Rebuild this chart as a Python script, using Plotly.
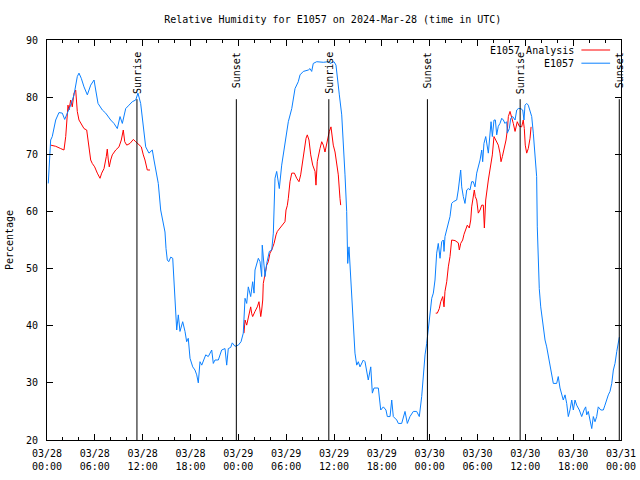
import pandas as pd
import plotly.graph_objects as go

START = pd.Timestamp("2024-03-28 00:00")

# E1057 observed relative humidity: hours since 03/28 00:00 UTC, value (%)
blue_hours = [0.16, 0.25, 0.46, 0.66, 1.09, 1.5, 1.92, 2.22, 2.55, 2.97, 3.39, 3.8, 4.01, 4.3, 4.64,
              5.06, 5.48, 5.9, 6.11, 6.4, 6.94, 7.36, 7.99, 8.4, 8.82, 9.16, 9.45, 9.87, 10.29, 10.7,
              11.13, 11.41, 11.75, 12.04, 12.38, 12.79, 13.21, 13.42, 13.55, 13.96, 14.26, 14.51, 14.8,
              14.93, 15.09, 15.27, 15.52, 15.77, 15.93, 16.06, 16.18, 16.27, 16.47, 16.68, 17.02, 17.31,
              17.52, 17.72, 17.94, 18.28, 18.56, 18.78, 18.98, 19.19, 19.41, 19.61, 19.91, 20.23, 20.66,
              20.86, 21.07, 21.49, 21.91, 22.33, 22.54, 22.74, 23.04, 23.24, 23.58, 24.0, 24.34, 24.62,
              24.84, 25.05, 25.25, 25.55, 25.8, 25.97, 26.09, 26.51, 26.72, 26.93, 27.0, 27.35, 27.56,
              27.89, 28.19, 28.39, 28.48, 28.6, 28.81, 29.14, 29.44, 29.64, 29.85, 30.27, 30.7, 31.11,
              31.52, 31.74, 32.15, 32.78, 32.99, 33.2, 33.4, 33.83, 34.66, 35.29, 35.5, 36.0, 36.25,
              36.41, 36.67, 36.97, 37.17, 37.38, 37.59, 37.67, 37.72, 37.88, 38.1, 38.22, 38.42, 38.63,
              38.85, 39.05, 39.26, 39.68, 39.89, 40.3, 40.61, 40.81, 41.02, 41.56, 41.86, 42.19, 42.52,
              42.69, 43.03, 43.24, 43.44, 43.87, 44.07, 44.49, 44.91, 45.2, 45.53, 45.95, 46.37, 46.7,
              47.0, 47.2, 47.42, 47.63, 47.83, 48.04, 48.26, 48.46, 48.67, 48.88, 49.08, 49.3, 49.51,
              49.71, 49.8, 49.92, 50.14, 50.46, 50.55, 50.76, 50.97, 51.39, 51.59, 51.89, 52.02, 52.22,
              52.43, 52.65, 52.85, 53.06, 53.27, 53.47, 53.69, 53.9, 54.1, 54.32, 54.53, 54.65, 54.81,
              55.03, 55.36, 55.57, 55.7, 55.86, 56.07, 56.24, 56.41, 56.61, 56.82, 57.04, 57.24, 57.45,
              57.66, 57.74, 57.99, 58.17, 58.42, 58.71, 58.92, 59.12, 59.42, 59.67, 59.83, 59.96, 60.17,
              60.37, 60.59, 60.8, 61.0, 61.21, 61.42, 61.5, 61.63, 61.75, 61.93, 62.09, 62.26, 62.47,
              62.68, 62.88, 63.09, 63.31, 63.51, 63.93, 64.13, 64.35, 64.56, 64.76, 64.98, 65.19, 65.39,
              65.6, 65.82, 66.02, 66.23, 66.44, 66.77, 67.07, 67.36, 67.57, 67.7, 67.9, 68.11, 68.33,
              68.53, 68.74, 68.95, 69.15, 69.46, 69.78, 69.99, 70.21, 70.41, 70.62, 70.84, 71.04, 71.25,
              71.47, 71.67, 71.79]
blue_rh = [64.9, 67.2, 72.5, 73.1, 76.0, 77.3, 77.2, 76.1, 77.2, 78.6, 80.4, 83.6, 84.2, 83.3, 81.8,
           80.4, 82.1, 83.0, 81.25, 78.9, 77.75, 77.2, 76.0, 75.4, 74.5, 76.6, 75.4, 78.0, 78.6, 79.2,
           79.5, 80.7, 78.9, 75.4, 71.3, 70.2, 70.75, 69.0, 68.1, 64.9, 60.25, 58.2, 56.4,
           53.5, 51.5, 51.2, 52.0, 51.8, 47.4, 44.5, 41.0, 39.25, 41.9, 39.0, 40.7, 39.0,
           37.2, 37.8, 34.3, 32.8, 32.25, 31.4, 30.0, 33.7, 33.1, 33.7, 34.9, 34.6, 35.75,
           33.4, 34.0, 34.0, 35.75, 36.0, 33.1, 36.0, 36.2, 37.0, 36.4, 36.6, 37.2, 38.7,
           44.8, 43.9, 46.8, 45.1, 47.7, 45.7, 49.75, 51.8, 51.2, 48.6, 54.1, 48.6, 50.9,
           53.0, 53.25, 56.2, 60.0, 65.8, 67.0, 64.0, 68.1, 69.9, 72.2, 75.7, 78.0, 81.5,
           82.7, 83.9, 84.5, 84.75, 85.0, 84.5, 85.9, 86.2, 86.1, 86.2, 85.9, 86.2, 85.6,
           83.9, 80.4, 76.9, 72.2, 66.4, 60.0, 54.4, 50.9, 53.8, 48.9, 45.1, 41.0, 35.2,
           33.1, 33.7, 32.8, 34.0, 33.7, 30.5, 32.8, 28.2, 29.1, 29.1, 25.25, 25.8, 25.25,
           24.1, 24.1, 27.0, 24.1, 23.5, 22.9, 22.9, 25.0, 22.9, 24.1, 25.0, 25.0, 24.1,
           27.6, 31.7, 34.9, 36.9, 39.8, 42.75, 44.8, 45.7, 48.0, 52.7, 54.4, 51.8, 54.7,
           55.0, 53.0, 55.6, 56.75, 58.8, 59.1, 61.4, 61.7, 62.0, 63.75, 67.25, 64.3, 62.6,
           61.4, 63.75, 64.0, 63.75, 65.2, 65.2, 64.3, 66.7, 67.8, 69.0, 70.75, 68.7, 71.9,
           73.1, 70.2, 73.1, 75.7, 73.1, 76.0, 76.0, 73.4, 74.9, 75.4, 76.3, 76.0, 75.4,
           75.7, 73.7, 74.5, 76.3, 76.6, 76.0, 77.75, 78.0, 78.0, 77.75, 76.0, 78.6, 78.9,
           78.6, 77.75, 76.6, 73.7, 69.6, 66.1, 57.3, 50.9, 46.5, 43.3, 41.6, 40.1, 37.5,
           36.3, 34.6, 33.1, 31.7, 29.9, 29.9, 31.1, 29.1, 28.2, 27.0, 27.9, 26.4, 24.1,
           25.25, 27.0, 25.25, 27.0, 26.1, 25.25, 24.1, 25.25, 25.8, 24.4, 25.0, 23.5, 22.0,
           24.1, 23.2, 24.1, 25.8, 25.25, 25.25, 26.1, 27.3, 27.9, 28.5, 29.9, 32.25, 33.4,
           35.5, 37.5, 38.0]

# E1057 Analysis: hours since 03/28 00:00 UTC, value (%); None separates the three segments
red_hours = [0.46, 1.09, 1.72, 2.13, 2.35, 2.47, 2.63, 2.76, 2.97, 3.17, 3.39, 3.6, 3.73, 3.8, 4.01,
             4.43, 4.64, 4.98, 5.14, 5.27, 5.48, 5.68, 5.98, 6.31, 6.65, 6.86, 7.15, 7.44, 7.56, 7.69,
             7.81, 7.99, 8.19, 8.62, 9.03, 9.32, 9.57, 9.75, 10.0, 10.41, 10.83, 11.13, 11.54, 11.83,
             12.08, 12.29, 12.58, 12.92,
             None,
             24.71, 24.84, 25.05, 25.25, 25.55, 25.68, 25.8, 26.09, 26.38, 26.59, 26.81, 26.93, 27.06,
             27.13, 27.35, 27.56, 27.76, 27.97, 28.19, 28.48, 28.73, 28.89, 29.23, 29.57, 29.85, 29.98,
             30.14, 30.27, 30.48, 30.7, 31.03, 31.32, 31.61, 31.82, 32.03, 32.24, 32.49, 32.65, 32.86,
             33.08, 33.33, 33.62, 33.74, 33.9, 34.03, 34.24, 34.46, 34.66, 34.87, 35.09, 35.29, 35.41,
             35.62, 35.71, 35.91, 36.13, 36.34, 36.54, 36.75, 36.84,
             None,
             48.76, 48.96, 49.21, 49.39, 49.64, 49.8, 49.92, 50.14, 50.34, 50.55, 50.76, 51.18, 51.59,
             51.72, 51.89, 52.14, 52.31, 52.56, 52.72, 52.97, 53.15, 53.27, 53.47, 53.6, 53.72, 53.9,
             54.1, 54.32, 54.53, 54.73, 54.86, 55.03, 55.36, 55.57, 55.7, 55.86, 56.07, 56.32, 56.61,
             56.82, 56.95, 57.12, 57.33, 57.58, 57.74, 57.87, 58.08, 58.29, 58.49, 58.71, 58.83, 58.99,
             59.24, 59.54, 59.74, 59.87, 59.99, 60.17, 60.37, 60.59, 60.72]
red_rh = [71.6, 71.4, 71.0, 70.75, 73.1, 76.6, 78.6, 77.75, 79.5, 78.3, 80.7, 81.25, 78.9, 77.5, 76.0,
          75.1, 74.5, 74.25, 72.5, 71.0, 69.0, 68.4, 67.8, 66.7, 65.8, 66.7, 67.5, 69.6, 70.9, 69.0,
          67.8, 69.0, 69.9, 70.75, 71.3, 72.5, 74.25, 72.2, 71.6, 71.9, 72.6, 72.2, 71.6, 71.3,
          69.9, 69.0, 67.25, 67.25,
          None,
          38.7, 41.0, 40.1, 41.6, 43.3, 42.1, 41.6, 42.5, 43.3, 44.2, 41.6, 42.75, 44.5,
          47.4, 49.2, 50.6, 51.2, 52.7, 53.25, 54.4, 55.9, 56.5, 57.1, 57.6, 58.2, 60.25,
          61.0, 62.3, 65.2, 66.7, 66.7, 65.8, 65.2, 66.4, 68.7, 71.0, 72.8, 73.4, 72.5,
          69.9, 68.1, 67.0, 64.6, 68.7, 69.9, 71.0, 72.2, 71.6, 70.4, 71.9, 72.8, 74.0,
          74.8, 73.4, 71.6, 70.4, 68.7, 66.4, 62.3, 61.1,
          None,
          42.2, 42.2, 43.0, 44.2, 45.1, 43.3, 46.0, 47.7, 50.3, 52.1, 55.0, 54.9, 54.5,
          53.25, 54.4, 55.0, 56.0, 57.1, 57.6, 57.1, 58.5, 60.8, 62.6, 63.75, 62.6, 62.0,
          59.7, 60.25, 61.1, 61.1, 57.1, 62.0, 65.5, 67.25, 69.0, 69.9, 73.1, 72.5, 71.6,
          70.2, 68.7, 69.6, 71.0, 72.5, 74.25, 76.6, 77.5, 76.6, 75.4, 74.0, 74.8, 75.7,
          74.9, 74.8, 76.0, 74.5, 71.6, 70.2, 71.0, 72.8, 74.8]

# Sunrise / sunset times (UTC)
sun_times = ["2024-03-28 11:17", "2024-03-28 23:45", "2024-03-29 11:21",
             "2024-03-29 23:43", "2024-03-30 11:21", "2024-03-30 23:47"]
sun_labels = ["Sunrise", "Sunset", "Sunrise", "Sunset", "Sunrise", "Sunset"]

series_names = ["E1057 Analysis", "E1057"]
series_colors = ["#ff0000", "#0a80ff"]

FONT = "DejaVu Sans Mono"


def to_time(hours):
    return [START + pd.Timedelta(hours=h) if h is not None else None for h in hours]


fig = go.Figure()
fig.add_trace(go.Scatter(x=to_time(red_hours), y=red_rh, mode="lines", name=series_names[0],
                         line=dict(color=series_colors[0], width=1), connectgaps=False,
                         showlegend=False))
fig.add_trace(go.Scatter(x=to_time(blue_hours), y=blue_rh, mode="lines", name=series_names[1],
                         line=dict(color=series_colors[1], width=1), showlegend=False))

for t, lab in zip(sun_times, sun_labels):
    fig.add_shape(type="line", xref="x", yref="paper", x0=t, x1=t, y0=0, y1=0.852,
                  line=dict(color="black", width=1))
    fig.add_annotation(x=t, xref="x", y=0.975, yref="paper", text=lab, textangle=-90,
                       showarrow=False, xanchor="center", yanchor="top",
                       font=dict(family=FONT, size=10, color="black"))

# Legend (gnuplot style: text then line sample)
for i, (nm, col) in enumerate(zip(series_names, series_colors)):
    yy = 0.975 - i * 0.033
    fig.add_annotation(x=0.921, xref="paper", y=yy, yref="paper", text=nm, showarrow=False,
                       xanchor="right", yanchor="middle",
                       font=dict(family=FONT, size=10, color="black"))
    fig.add_shape(type="line", xref="paper", yref="paper", x0=0.931, x1=0.981, y0=yy, y1=yy,
                  line=dict(color=col, width=1))

fig.update_layout(
    width=640, height=480,
    margin=dict(l=47, r=19, t=40, b=40, autoexpand=False),
    paper_bgcolor="white", plot_bgcolor="white",
    title=dict(text="Relative Humidity for E1057 on 2024-Mar-28 (time in UTC)",
               x=0.52, xanchor="center", xref="container", y=1 - 19 / 480, yref="container",
               yanchor="middle", automargin=False,
               font=dict(family=FONT, size=10, color="black")),
    font=dict(family=FONT, size=10, color="black"),
)
fig.update_xaxes(
    type="date", range=["2024-03-28 00:00", "2024-03-31 00:00"],
    tick0="2024-03-28 00:00", dtick=6 * 3600 * 1000, tickformat="%m/%d<br>%H:%M",
    ticks="inside", ticklen=6, tickcolor="black", showline=True, linecolor="black",
    linewidth=1, mirror="allticks", showgrid=False, zeroline=False, automargin=False,
    ticklabelstandoff=4,
    minor=dict(dtick=2 * 3600 * 1000, ticks="inside", ticklen=3, tickcolor="black",
               showgrid=False),
    tickfont=dict(family=FONT, size=10, color="black"),
)
fig.update_yaxes(
    range=[20, 90], dtick=10, ticks="inside", ticklen=6, tickcolor="black",
    showline=True, linecolor="black", linewidth=1, mirror="allticks",
    showgrid=False, zeroline=False, automargin=False, ticklabelstandoff=6,
    title=dict(text="Percentage", font=dict(family=FONT, size=10, color="black"), standoff=10),
    tickfont=dict(family=FONT, size=10, color="black"),
)

fig.write_html("out.html", config={"displayModeBar": False},
               post_script="document.body.style.margin='0';")
